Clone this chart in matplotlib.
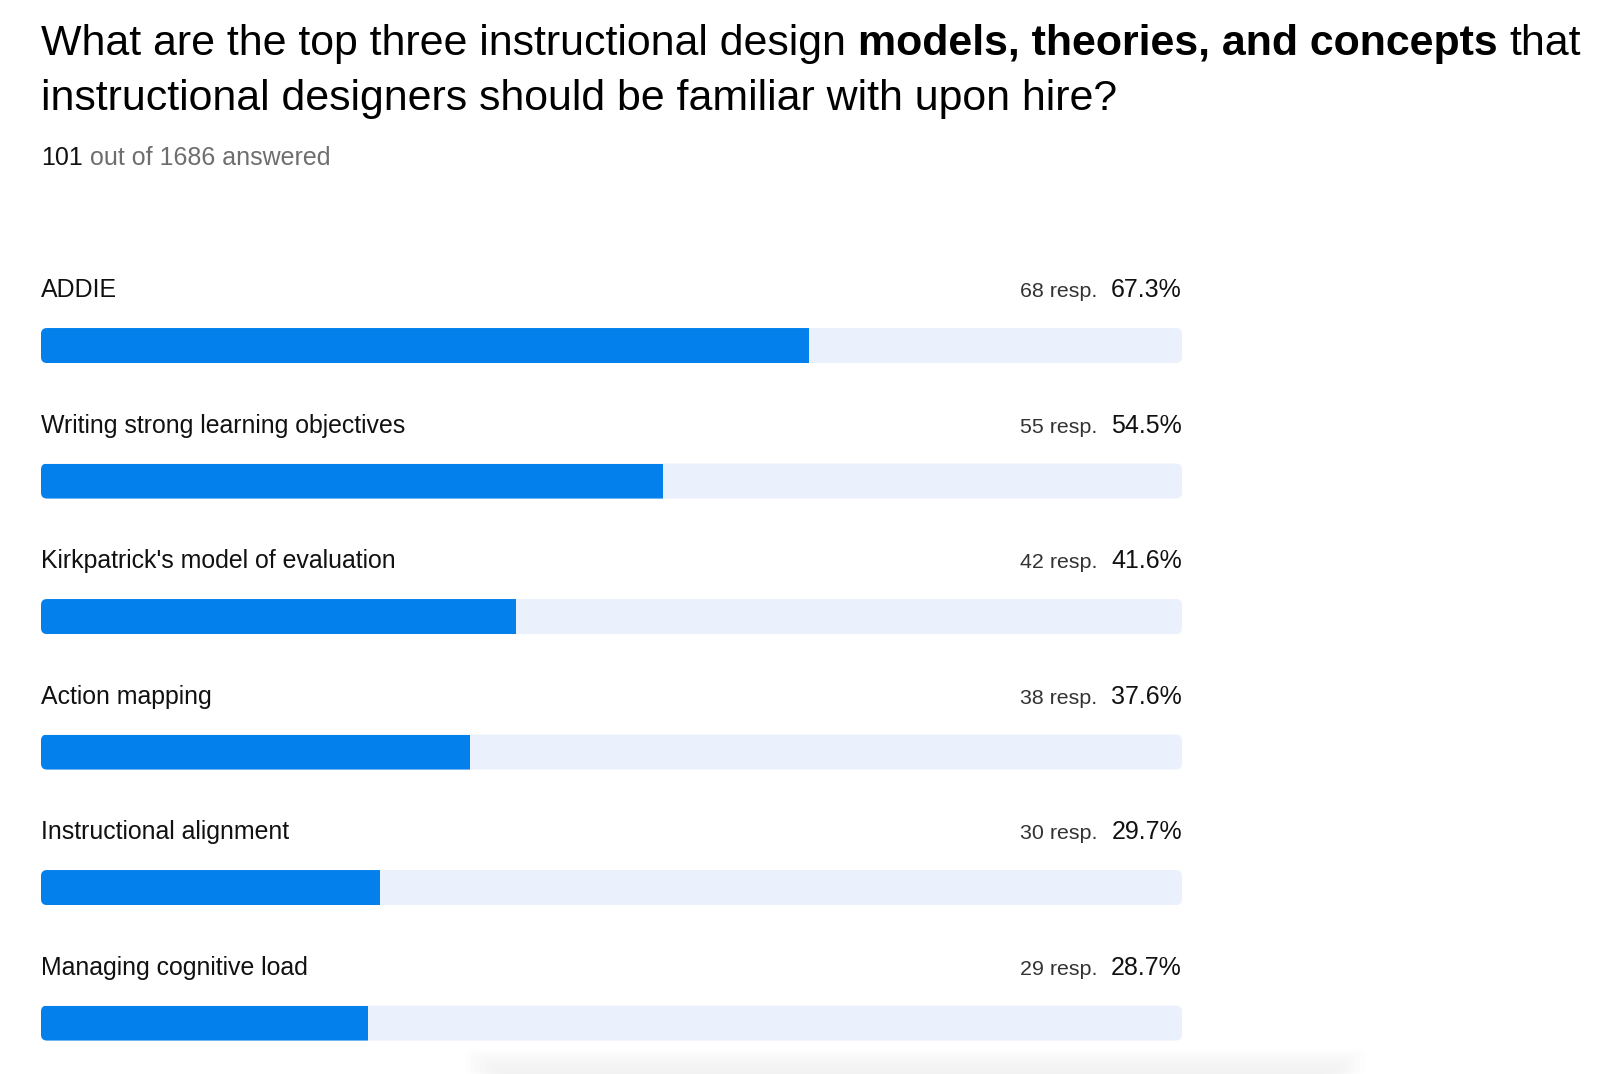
import matplotlib
matplotlib.use("Agg")
import matplotlib.pyplot as plt
from matplotlib.patches import FancyBboxPatch

plt.rcParams['font.family'] = ['Liberation Sans', 'DejaVu Sans']

categories = ["ADDIE", "Writing strong learning objectives",
              "Kirkpatrick's model of evaluation", "Action mapping",
              "Instructional alignment", "Managing cognitive load"]
responses = [68, 55, 42, 38, 30, 29]
percents = [67.3, 54.5, 41.6, 37.6, 29.7, 28.7]
answered = 101
total = 1686

BLUE = "#0480ED"
TRACK = "#EAF1FC"

fig = plt.figure(figsize=(16, 10.74), dpi=100)
W, H = 1600, 1074
renderer = fig.canvas.get_renderer()

# faint card shadow at the bottom edge
for k in range(8):
    g = 5 * k
    fig.patches.append(FancyBboxPatch(((500 - g) / W, 0), (830 + 2 * g) / W,
                                      (4 + 3 * k) / H,
                                      boxstyle="round,pad=0,rounding_size=0.005",
                                      transform=fig.transFigure, fc="#777777",
                                      ec="none", alpha=0.007, zorder=-1))

# bar area: x 41..1182 px, rows from y=250 px down to the bottom
ax = fig.add_axes([41 / W, 0, (1182 - 41) / W, (H - 250) / H])
ax.set_xlim(0, 100)
ax.set_ylim(5.376, -0.705)
ax.axis("off")
ax.patch.set_alpha(0)

px_x = 100 / 1141      # data units per pixel (x)
px_y = 1 / 135.5       # data units per pixel (y)
bar_h = 35 * px_y
rad = 6 * px_x

for i, (cat, r, p) in enumerate(zip(categories, responses, percents)):
    track = FancyBboxPatch((0, i - bar_h / 2), 100, bar_h,
                           boxstyle=f"round,pad=0,rounding_size={rad}",
                           mutation_aspect=px_y / px_x,
                           fc=TRACK, ec="none", zorder=1)
    ax.add_patch(track)
    bars = ax.barh(i, p, height=bar_h, left=0, color=BLUE, zorder=2)
    bars[0].set_clip_path(track)

    yb = i - 48.5 * px_y
    ax.text(0, yb, cat, fontsize=17.9, va="baseline", ha="left", color="#111111")
    pt = ax.text(100, yb, f"{p:.1f}%", fontsize=18, va="baseline", ha="right",
                 color="#111111")
    pw = pt.get_window_extent(renderer).width
    ax.text(100 - (pw + 14) * px_x, yb, f"{r} resp.", fontsize=15.4,
            va="baseline", ha="right", color="#333333")


# title with bold middle part
def put(x, y, s, **kw):
    t = fig.text(x / W, 1 - y / H, s, va="baseline", ha="left", **kw)
    bb = t.get_window_extent(renderer)
    return x + bb.width


def space_w(**kw):
    a = fig.text(0, 0, "a a", **kw)
    b = fig.text(0, 0, "aa", **kw)
    w = a.get_window_extent(renderer).width - b.get_window_extent(renderer).width
    a.remove()
    b.remove()
    return w


tkw = dict(fontsize=30.9, color="#000000")
sp = space_w(**tkw)
x = put(41, 55, "What are the top three instructional design", **tkw)
x = put(x + sp, 55, "models, theories, and concepts", fontweight="bold", **tkw)
put(x + sp, 55, "that", **tkw)
put(41, 110, "instructional designers should be familiar with upon hire?", **tkw)

skw = dict(fontsize=18)
sp2 = space_w(**skw)
x = put(41, 165, str(answered), color="#111111", **skw)
put(x + sp2, 165, f"out of {total} answered", color="#6e6e6e", **skw)

fig.savefig("out.png", dpi=100, facecolor="white")
